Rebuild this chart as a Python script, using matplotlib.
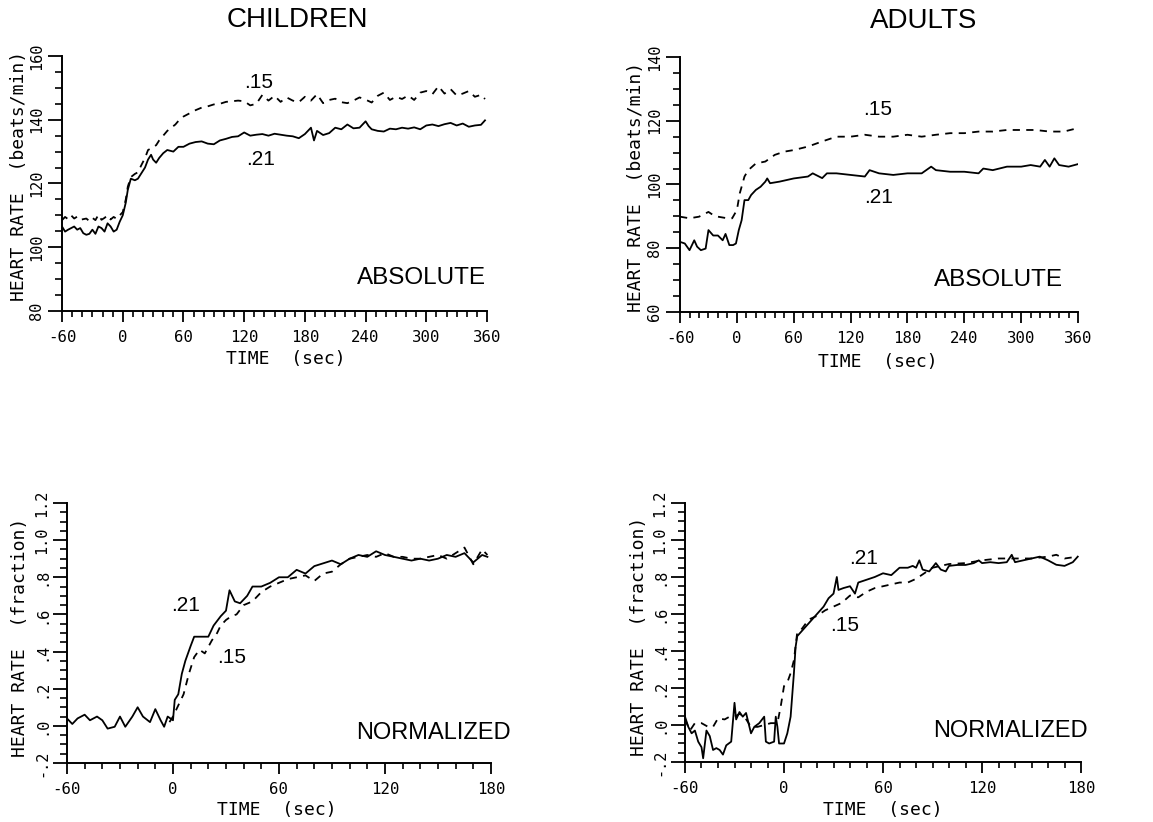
import numpy as np
import matplotlib
matplotlib.use("Agg")
import matplotlib.pyplot as plt
from matplotlib.ticker import MultipleLocator

# ---- data ----
# children, absolute heart rate (beats/min)
ch_abs_t21 = [-60, -57, -54, -51, -48, -45, -42, -39, -36, -33, -30, -27, -24, -21, -18, -15, -12, -9, -6, -3,
              0, 3, 5, 8, 12, 15, 18, 22, 25, 28, 30, 33, 36, 40, 44, 50, 55, 60, 66, 72, 78, 84, 90, 96, 102,
              108, 114, 120, 126, 132, 138, 144, 150, 156, 162, 168, 174, 180, 186, 189, 192, 198, 204, 210, 216,
              222, 228, 234, 240, 243, 246, 252, 258, 264, 270, 276, 282, 288, 294, 300, 306, 312, 318, 324, 330,
              336, 342, 348, 354, 358]
ch_abs_y21 = [106.5, 104.9, 105.5, 106, 106.5, 105.5, 106, 104.4, 103.9, 104.2, 105.5, 104.2, 106.5, 106, 104.9,
              107.5, 106.5, 104.9, 105.5, 108, 110, 114, 118, 121.5, 121, 121.5, 123, 125, 127.5, 129, 127.5,
              126.5, 128, 129.5, 130.5, 130, 131.5, 131.5, 132.5, 133, 133.2, 132.5, 132.3, 133.5, 134, 134.6,
              134.8, 136, 135, 135.3, 135.5, 135, 135.6, 135.3, 135, 134.8, 134.2, 135.5, 137.5, 133.5, 136.5,
              135.2, 135.8, 137.5, 137, 138.5, 137.3, 137.5, 139.5, 138, 137, 136.5, 136.3, 137.2, 137, 137.5,
              137.2, 137.6, 137, 138.2, 138.5, 138, 138.6, 139, 138.2, 138.8, 137.8, 138.2, 138.4, 139.8]
ch_abs_t15 = [-60, -57, -54, -51, -48, -45, -42, -39, -36, -33, -30, -27, -24, -21, -18, -15, -12, -9, -6, -3,
              0, 3, 5, 8, 12, 15, 18, 22, 25, 28, 30, 33, 36, 40, 44, 48, 52, 56, 60, 66, 72, 78, 84, 90, 96,
              102, 108, 114, 120, 126, 132, 138, 144, 150, 156, 162, 168, 174, 180, 186, 192, 198, 204, 210, 216,
              222, 228, 234, 240, 246, 252, 258, 264, 270, 276, 282, 288, 294, 300, 306, 312, 318, 324, 330, 336,
              342, 348, 354, 358]
ch_abs_y15 = [108.5, 109.5, 108.8, 110, 109, 109.6, 108.6, 108.8, 109, 108.2, 109.2, 108.5, 110.2, 108.6, 109.2,
              110, 108.7, 109.5, 108.9, 110, 111, 115, 119, 122, 123, 123.5, 125.5, 128, 130.5, 131, 131.5, 132,
              133.5, 135, 136.5, 137.5, 138.5, 140, 141, 142, 143, 143.8, 144.2, 144.8, 145, 145.6, 145.8, 146,
              145.8, 144.5, 145, 147.8, 146, 147.5, 145.6, 147, 146, 145.5, 147.2, 146, 148, 145.2, 146.2, 146.6,
              145.5, 145.2, 146, 147, 146.3, 145.4, 147.5, 148.5, 146.2, 147.2, 146.5, 147.6, 146.2, 148.5, 149,
              148, 150.5, 148.2, 149.6, 147.6, 148.2, 149, 147.2, 147.8, 146.5]

# adults, absolute heart rate (beats/min)
ad_abs_t21 = [-60, -55, -50, -45, -42, -38, -33, -30, -25, -20, -15, -12, -8, -4, -1, 2, 5, 8, 12, 15, 20, 25,
              30, 32, 35, 45, 60, 75, 80, 90, 95, 105, 120, 135, 140, 150, 165, 180, 195, 205, 210, 225, 240, 255,
              260, 270, 285, 300, 310, 320, 325, 330, 335, 340, 350, 360]
ad_abs_y21 = [82, 81.5, 79.4, 82.5, 80.5, 79.4, 79.9, 85.7, 84, 84, 82.5, 84.5, 81, 81, 81.5, 85.7, 88.8, 95.1,
              95.1, 96.7, 98.3, 99.3, 100.9, 101.9, 100.4, 100.9, 101.9, 102.5, 103.5, 102, 103.5, 103.5, 103,
              102.5, 104.5, 103.5, 103, 103.5, 103.5, 105.6, 104.5, 104, 104, 103.5, 105, 104.5, 105.6, 105.6,
              106.1, 105.6, 107.7, 105.6, 108.2, 106.1, 105.6, 106.4]
ad_abs_t15 = [-60, -50, -40, -30, -25, -20, -10, -5, 0, 3, 8, 12, 20, 30, 40, 50, 60, 75, 90, 105, 120, 135,
              150, 165, 180, 195, 210, 225, 240, 255, 270, 285, 300, 315, 330, 345, 360]
ad_abs_y15 = [89.9, 89.4, 89.9, 91.4, 90.4, 89.9, 89.4, 89.4, 92, 97.2, 102.5, 104.5, 106.6, 107.2, 109.3, 110.3,
              110.8, 111.9, 113.5, 115, 115, 115.6, 115, 115, 115.6, 115, 115.6, 116.1, 116.1, 116.6, 116.6,
              117.1, 117.1, 117.1, 116.6, 116.6, 117.7]

# children, normalized heart rate (fraction)
ch_nrm_t21 = [-60, -57, -54, -50, -47, -43, -40, -37, -33, -30, -27, -23, -20, -17, -13, -10, -7, -5, -3, 0, 1,
              3, 5, 7, 10, 12, 15, 20, 23, 27, 30, 32, 35, 38, 42, 45, 50, 55, 60, 65, 70, 75, 80, 85, 90, 95, 100,
              105, 110, 115, 120, 125, 130, 135, 140, 145, 150, 155, 160, 165, 170, 175, 178]
ch_nrm_y21 = [0.04, 0.01, 0.04, 0.06, 0.03, 0.05, 0.03, -0.015, -0.005, 0.05, -0.005, 0.05, 0.1, 0.05, 0.02,
              0.09, 0.03, -0.005, 0.05, 0.03, 0.14, 0.17, 0.28, 0.35, 0.43, 0.48, 0.48, 0.48, 0.54, 0.59, 0.62,
              0.73, 0.67, 0.66, 0.70, 0.75, 0.75, 0.77, 0.80, 0.80, 0.84, 0.82, 0.86, 0.875, 0.89, 0.87, 0.90,
              0.92, 0.91, 0.94, 0.92, 0.91, 0.90, 0.89, 0.90, 0.89, 0.90, 0.92, 0.91, 0.93, 0.88, 0.92, 0.91]
ch_nrm_t15 = [-2, 0, 3, 6, 9, 12, 15, 18, 22, 25, 27, 30, 33, 36, 40, 45, 50, 55, 60, 65, 70, 75, 80, 85, 90,
              95, 100, 105, 110, 115, 120, 125, 130, 135, 140, 145, 150, 155, 160, 165, 170, 175, 178]
ch_nrm_y15 = [0.02, 0.05, 0.11, 0.17, 0.28, 0.37, 0.41, 0.39, 0.46, 0.50, 0.54, 0.57, 0.59, 0.60, 0.65, 0.67,
              0.72, 0.75, 0.77, 0.79, 0.80, 0.81, 0.78, 0.82, 0.83, 0.87, 0.90, 0.91, 0.92, 0.91, 0.93, 0.91,
              0.91, 0.90, 0.90, 0.91, 0.92, 0.90, 0.93, 0.96, 0.87, 0.95, 0.92]

# adults, normalized heart rate (fraction)
ad_nrm_t21 = [-60, -58, -56, -54, -52, -50, -49, -47, -46, -45, -43, -41, -39, -37, -35, -32, -30, -29, -27,
              -25, -23, -20, -18, -15, -12, -11, -9, -6, -5, -4, -3, 0, 2, 4, 6, 7, 8, 10, 13, 17, 20, 24, 27,
              30, 32, 33, 36, 40, 43, 45, 50, 55, 60, 65, 70, 75, 78, 80, 82, 84, 88, 92, 95, 98, 100, 105, 110,
              115, 118, 120, 125, 130, 135, 138, 140, 145, 150, 155, 160, 165, 170, 175, 178]
ad_nrm_y21 = [0.045, -0.01, -0.045, -0.03, -0.09, -0.12, -0.18, -0.03, -0.045, -0.06, -0.135, -0.125, -0.135,
              -0.16, -0.11, -0.09, 0.12, 0.03, 0.07, 0.045, 0.065, -0.045, -0.01, 0.01, 0.045, -0.09, -0.10,
              -0.09, 0.045, -0.01, -0.10, -0.10, -0.045, 0.045, 0.28, 0.42, 0.48, 0.50, 0.53, 0.57, 0.60, 0.64,
              0.685, 0.71, 0.80, 0.73, 0.74, 0.75, 0.71, 0.77, 0.785, 0.80, 0.82, 0.81, 0.85, 0.85, 0.86, 0.85,
              0.89, 0.84, 0.83, 0.875, 0.84, 0.83, 0.86, 0.865, 0.865, 0.875, 0.89, 0.875, 0.88, 0.875, 0.88,
              0.92, 0.88, 0.89, 0.90, 0.91, 0.89, 0.866, 0.86, 0.88, 0.91]
ad_nrm_t15 = [-60, -57, -54, -50, -46, -43, -40, -36, -33, -30, -27, -24, -20, -16, -12, -8, -4, -2, 0, 2, 4, 6,
              8, 10, 15, 20, 25, 30, 35, 40, 45, 50, 55, 60, 65, 70, 75, 80, 85, 90, 95, 100, 110, 120, 130, 140,
              150, 160, 165, 170, 178]
ad_nrm_y15 = [0.03, -0.03, 0.01, 0.01, -0.01, -0.01, 0.036, 0.03, 0.045, 0.045, 0.06, 0.045, -0.01, -0.01,
              0.0, 0.01, 0.01, 0.10, 0.21, 0.23, 0.28, 0.35, 0.50, 0.51, 0.57, 0.59, 0.62, 0.64, 0.66, 0.70,
              0.69, 0.72, 0.74, 0.75, 0.76, 0.77, 0.77, 0.79, 0.82, 0.85, 0.86, 0.87, 0.875, 0.89, 0.90, 0.90,
              0.90, 0.91, 0.92, 0.90, 0.91]

abs_xticks = [-60, 0, 60, 120, 180, 240, 300, 360]
nrm_xticks = [-60, 0, 60, 120, 180]
nrm_yticks = [-0.2, 0.0, 0.2, 0.4, 0.6, 0.8, 1.0, 1.2]
nrm_ylabels = ['-.2', '.0', '.2', '.4', '.6', '.8', '1.0', '1.2']

mono = 'DejaVu Sans Mono'
sans = 'Liberation Sans'


def style_axes(ax, xlim, ylim, xticks, yticks, ylabels, ylabel, ymin_step, lab_coords):
    ax.set_xlim(xlim)
    ax.set_ylim(ylim)
    for s in ['top', 'right']:
        ax.spines[s].set_visible(False)
    for s in ['left', 'bottom']:
        ax.spines[s].set_linewidth(1.4)
    ax.set_xticks(xticks)
    ax.set_xticklabels([str(t) for t in xticks], fontfamily=mono, fontsize=11.3)
    ax.xaxis.set_minor_locator(MultipleLocator(10))
    ax.set_yticks(yticks)
    ax.set_yticklabels(ylabels, rotation=90, va='center', fontfamily=mono, fontsize=11)
    ax.yaxis.set_minor_locator(MultipleLocator(ymin_step))
    ax.tick_params(axis='x', which='major', direction='out', length=8, width=1.3, pad=6)
    ax.tick_params(axis='x', which='minor', direction='out', length=4, width=1.2)
    ax.tick_params(axis='y', which='major', direction='out', length=10, width=1.3, pad=3)
    ax.tick_params(axis='y', which='minor', direction='out', length=5, width=1.2)
    # label coords: x label top edge, y label centre
    ax.set_xlabel('TIME  (sec)', fontfamily=mono, fontsize=13, va='top')
    ax.set_ylabel(ylabel, fontfamily=mono, fontsize=13, va='center')
    ax.xaxis.set_label_coords(lab_coords[0], lab_coords[1])
    ax.yaxis.set_label_coords(lab_coords[2], lab_coords[3])


def draw_pair(ax, t15, y15, t21, y21):
    ax.plot(t21, y21, color='black', lw=1.3)
    ax.plot(t15, y15, color='black', lw=1.3, dashes=(4, 3.5))


fig = plt.figure(figsize=(11.53, 8.22), dpi=100)

ax1 = fig.add_axes([0.0538, 0.6217, 0.3686, 0.3102])
ax2 = fig.add_axes([0.5898, 0.6204, 0.3452, 0.3103])
ax3 = fig.add_axes([0.0581, 0.0718, 0.3677, 0.3163])
ax4 = fig.add_axes([0.5941, 0.0730, 0.3435, 0.3151])

# top left: children absolute
draw_pair(ax1, ch_abs_t15, ch_abs_y15, ch_abs_t21, ch_abs_y21)
style_axes(ax1, (-60, 360), (80, 160), abs_xticks, [80, 100, 120, 140, 160],
           ['80', '100', '120', '140', '160'], 'HEART RATE  (beats/min)', 5, (0.527, -0.152, -0.102, 0.53))
ax1.text(134, 151.8, '.15', fontfamily=sans, fontsize=15, ha='center', va='center')
ax1.text(136, 127.4, '.21', fontfamily=sans, fontsize=15, ha='center', va='center')
ax1.text(359, 90.4, 'ABSOLUTE', fontfamily=sans, fontsize=17.5, ha='right', va='center')

# top right: adults absolute
draw_pair(ax2, ad_abs_t15, ad_abs_y15, ad_abs_t21, ad_abs_y21)
style_axes(ax2, (-60, 360), (60, 140), abs_xticks, [60, 80, 100, 120, 140],
           ['60', '80', '100', '120', '140'], 'HEART RATE  (beats/min)', 5, (0.497, -0.16, -0.11, 0.49))
ax2.text(149, 123.4, '.15', fontfamily=sans, fontsize=15, ha='center', va='center')
ax2.text(149, 96, '.21', fontfamily=sans, fontsize=15, ha='center', va='center')
ax2.text(344, 70, 'ABSOLUTE', fontfamily=sans, fontsize=17.5, ha='right', va='center')

# bottom left: children normalized
draw_pair(ax3, ch_nrm_t15, ch_nrm_y15, ch_nrm_t21, ch_nrm_y21)
style_axes(ax3, (-60, 180), (-0.2, 1.2), nrm_xticks, nrm_yticks, nrm_ylabels,
           'HEART RATE  (fraction)', 0.05, (0.495, -0.148, -0.11, 0.485))
ax3.text(7, 0.65, '.21', fontfamily=sans, fontsize=15, ha='center', va='center')
ax3.text(33, 0.37, '.15', fontfamily=sans, fontsize=15, ha='center', va='center')
ax3.text(191, -0.04, 'NORMALIZED', fontfamily=sans, fontsize=17, ha='right', va='center')

# bottom right: adults normalized
draw_pair(ax4, ad_nrm_t15, ad_nrm_y15, ad_nrm_t21, ad_nrm_y21)
style_axes(ax4, (-60, 180), (-0.2, 1.2), nrm_xticks, nrm_yticks, nrm_ylabels,
           'HEART RATE  (fraction)', 0.05, (0.5, -0.152, -0.116, 0.485))
ax4.text(48, 0.90, '.21', fontfamily=sans, fontsize=15, ha='center', va='center')
ax4.text(37, 0.54, '.15', fontfamily=sans, fontsize=15, ha='center', va='center')
ax4.text(184, -0.03, 'NORMALIZED', fontfamily=sans, fontsize=17, ha='right', va='center')

fig.text(297 / 1153, 1 - 20 / 822, 'CHILDREN', fontfamily=sans, fontsize=20, ha='center', va='center')
fig.text(924 / 1153, 1 - 21 / 822, 'ADULTS', fontfamily=sans, fontsize=20, ha='center', va='center')

fig.savefig('out.png', dpi=100)
